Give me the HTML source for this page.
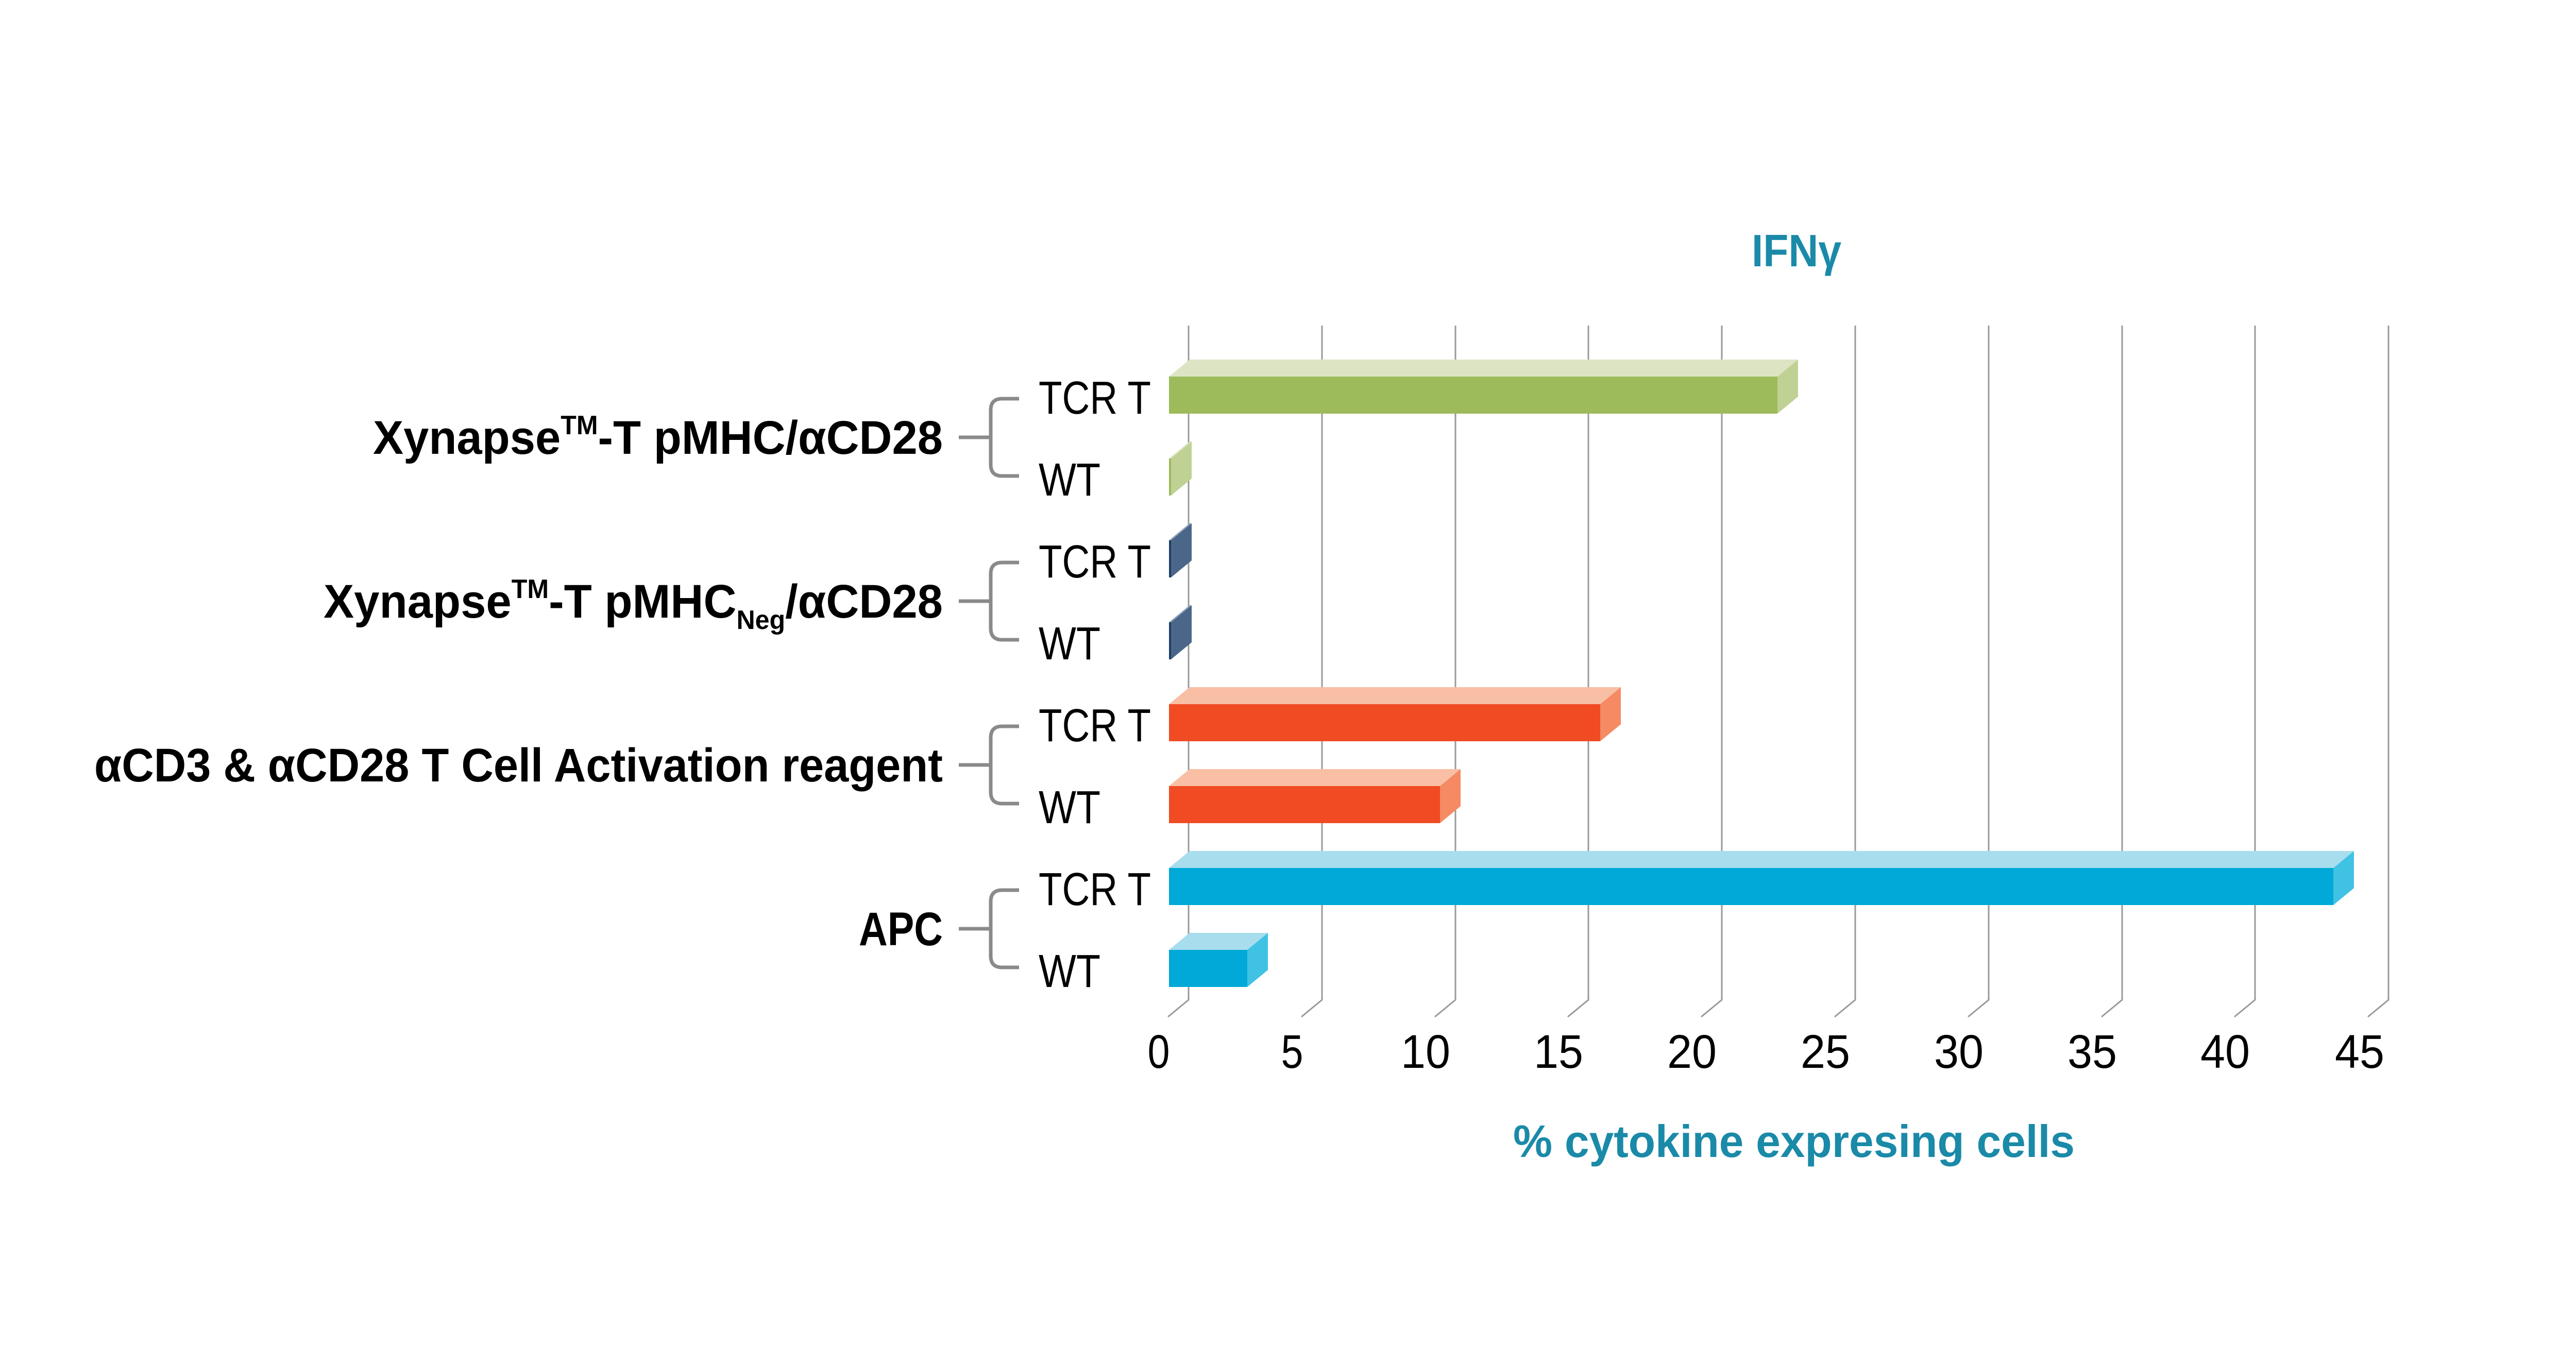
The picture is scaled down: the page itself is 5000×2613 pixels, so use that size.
<!DOCTYPE html>
<html><head><meta charset="utf-8"><style>html,body{margin:0;padding:0;background:#fff}svg{display:block}</style></head>
<body>
<svg width="5000" height="2613" viewBox="0 0 5000 2613" xmlns="http://www.w3.org/2000/svg" font-family="Liberation Sans, DejaVu Sans, sans-serif">
<rect width="5000" height="2613" fill="#fff"/>
<g stroke="#9a9a9a" stroke-width="3" fill="none">
<path d="M2307,632V1941L2267,1974"/>
<path d="M2566,632V1941L2526,1974"/>
<path d="M2825,632V1941L2785,1974"/>
<path d="M3083,632V1941L3043,1974"/>
<path d="M3342,632V1941L3302,1974"/>
<path d="M3601,632V1941L3561,1974"/>
<path d="M3860,632V1941L3820,1974"/>
<path d="M4119,632V1941L4079,1974"/>
<path d="M4377,632V1941L4337,1974"/>
<path d="M4636,632V1941L4596,1974"/>
</g>
<!-- bars -->
<g>
<polygon points="2269,731 2309,698 3490,698 3450,731" fill="#dce4c4"/>
<polygon points="3450,731 3490,698 3490,770 3450,803" fill="#bfd293"/>
<rect x="2269" y="731" width="1181" height="72" fill="#9dbb5a"/>

<polygon points="2269,890 2309,857 2313,857 2273,890" fill="#dce4c4"/>
<polygon points="2273,890 2313,857 2313,929 2273,962" fill="#bfd293"/>
<rect x="2269" y="890" width="4" height="72" fill="#9dbb5a"/>

<polygon points="2269,1049 2309,1016 2313,1016 2273,1049" fill="#8aa0ba"/>
<polygon points="2273,1049 2313,1016 2313,1088 2273,1121" fill="#4a6688"/>
<rect x="2269" y="1049" width="4" height="72" fill="#1f3f66"/>

<polygon points="2269,1208 2309,1175 2313,1175 2273,1208" fill="#8aa0ba"/>
<polygon points="2273,1208 2313,1175 2313,1247 2273,1280" fill="#4a6688"/>
<rect x="2269" y="1208" width="4" height="72" fill="#1f3f66"/>

<polygon points="2269,1367 2309,1334 3146,1334 3106,1367" fill="#f8bfa5"/>
<polygon points="3106,1367 3146,1334 3146,1406 3106,1439" fill="#f58a63"/>
<rect x="2269" y="1367" width="837" height="72" fill="#f04b23"/>

<polygon points="2269,1526 2309,1493 2835,1493 2795,1526" fill="#f8bfa5"/>
<polygon points="2795,1526 2835,1493 2835,1565 2795,1598" fill="#f58a63"/>
<rect x="2269" y="1526" width="526" height="72" fill="#f04b23"/>

<polygon points="2269,1685 2309,1652 4569,1652 4529,1685" fill="#a8ddee"/>
<polygon points="4529,1685 4569,1652 4569,1724 4529,1757" fill="#40c2e4"/>
<rect x="2269" y="1685" width="2260" height="72" fill="#00a9d8"/>

<polygon points="2269,1844 2309,1811 2461,1811 2421,1844" fill="#a8ddee"/>
<polygon points="2421,1844 2461,1811 2461,1883 2421,1916" fill="#40c2e4"/>
<rect x="2269" y="1844" width="152" height="72" fill="#00a9d8"/>
</g>
<!-- brackets -->
<g stroke="#8a8a8a" stroke-width="7" fill="none">
<path d="M1861,849H1923M1978,774H1945Q1923,774 1923,796V902Q1923,924 1945,924H1978"/>
<path d="M1861,1167H1923M1978,1092H1945Q1923,1092 1923,1114V1220Q1923,1242 1945,1242H1978"/>
<path d="M1861,1485H1923M1978,1410H1945Q1923,1410 1923,1432V1538Q1923,1560 1945,1560H1978"/>
<path d="M1861,1803H1923M1978,1728H1945Q1923,1728 1923,1750V1856Q1923,1878 1945,1878H1978"/>
</g>
<!-- row labels -->
<g font-size="90" fill="#000">
<text x="2016" y="803" textLength="218" lengthAdjust="spacingAndGlyphs">TCR T</text>
<text x="2016" y="962" textLength="120" lengthAdjust="spacingAndGlyphs">WT</text>
<text x="2016" y="1121" textLength="218" lengthAdjust="spacingAndGlyphs">TCR T</text>
<text x="2016" y="1280" textLength="120" lengthAdjust="spacingAndGlyphs">WT</text>
<text x="2016" y="1439" textLength="218" lengthAdjust="spacingAndGlyphs">TCR T</text>
<text x="2016" y="1598" textLength="120" lengthAdjust="spacingAndGlyphs">WT</text>
<text x="2016" y="1757" textLength="218" lengthAdjust="spacingAndGlyphs">TCR T</text>
<text x="2016" y="1916" textLength="120" lengthAdjust="spacingAndGlyphs">WT</text>
</g>
<!-- group labels -->
<g font-size="92" font-weight="bold" fill="#000">
<text x="724" y="881" textLength="1106" lengthAdjust="spacingAndGlyphs">Xynapse<tspan font-size="52" dy="-38">TM</tspan><tspan dy="38">-T  pMHC/αCD28</tspan></text>
<text x="628" y="1199" textLength="1202" lengthAdjust="spacingAndGlyphs">Xynapse<tspan font-size="52" dy="-38">TM</tspan><tspan dy="38">-T  pMHC</tspan><tspan font-size="52" dy="22">Neg</tspan><tspan dy="-22">/αCD28</tspan></text>
<text x="183" y="1517" textLength="1647" lengthAdjust="spacingAndGlyphs">αCD3 &amp; αCD28 T Cell Activation reagent</text>
<text x="1667" y="1835" textLength="163" lengthAdjust="spacingAndGlyphs">APC</text>
</g>
<!-- ticks -->
<g font-size="92" fill="#000" text-anchor="middle">
<text x="2249" y="2073" textLength="43" lengthAdjust="spacingAndGlyphs">0</text>
<text x="2508" y="2073" textLength="43" lengthAdjust="spacingAndGlyphs">5</text>
<text x="2767" y="2073" textLength="96" lengthAdjust="spacingAndGlyphs">10</text>
<text x="3025" y="2073" textLength="96" lengthAdjust="spacingAndGlyphs">15</text>
<text x="3284" y="2073" textLength="96" lengthAdjust="spacingAndGlyphs">20</text>
<text x="3543" y="2073" textLength="96" lengthAdjust="spacingAndGlyphs">25</text>
<text x="3802" y="2073" textLength="96" lengthAdjust="spacingAndGlyphs">30</text>
<text x="4061" y="2073" textLength="96" lengthAdjust="spacingAndGlyphs">35</text>
<text x="4319" y="2073" textLength="96" lengthAdjust="spacingAndGlyphs">40</text>
<text x="4580" y="2073" textLength="96" lengthAdjust="spacingAndGlyphs">45</text>
</g>
<text x="2937" y="2246" font-size="88" font-weight="bold" fill="#1a8aa8" textLength="1090" lengthAdjust="spacingAndGlyphs">% cytokine expresing cells</text>
<text x="3400" y="517" font-size="88" font-weight="bold" fill="#1a8aa8" textLength="174" lengthAdjust="spacingAndGlyphs">IFNγ</text>
</svg>
</body></html>
